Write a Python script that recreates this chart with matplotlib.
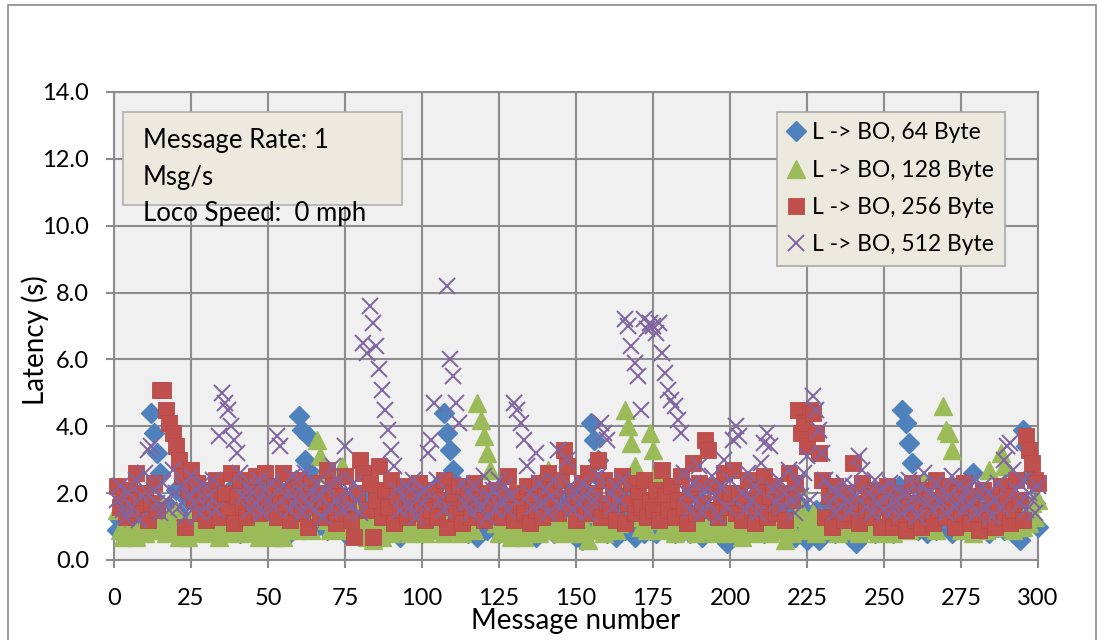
import matplotlib
matplotlib.use("Agg")
import matplotlib.pyplot as plt
from matplotlib.patches import Rectangle
from matplotlib.ticker import FormatStrFormatter

plt.rcParams['font.family'] = ['Lato', 'DejaVu Sans']

# Message numbers
messages = list(range(1, 301))

# Latency (s) per message, L -> BO, 64 Byte
lat_64 = [
    0.9,1.2,1.5,0.8,1.9,1.1,1.4,0.9,1.7,1.2,1.0,4.4,3.8,3.2,2.6,1.3,0.9,1.6,1.1,2.1,1.4,0.8,1.2,1.8,1.0,
    1.3,0.9,1.6,1.1,2.0,1.4,0.8,1.2,1.7,1.0,1.5,0.9,1.3,2.2,1.1,0.8,1.6,1.2,1.9,1.0,1.4,0.9,1.7,1.2,2.3,
    1.1,1.6,0.9,1.3,2.0,1.2,0.8,1.5,2.4,4.3,3.9,3.0,3.7,2.6,1.4,1.0,1.7,1.2,0.9,2.1,1.3,1.6,1.0,1.4,0.8,
    1.2,1.7,0.9,1.4,1.0,1.9,1.3,0.8,1.5,1.1,1.8,1.2,0.9,1.6,1.0,2.0,1.3,0.7,1.4,1.1,1.7,0.9,1.2,1.5,0.8,
    1.3,0.9,1.6,1.1,2.2,1.5,4.4,3.8,3.3,2.7,2.3,1.4,1.0,1.7,0.8,1.2,1.5,0.7,1.1,1.6,0.9,1.3,1.8,1.0,0.8,
    1.4,0.9,1.2,1.7,1.0,0.8,1.5,1.1,1.9,0.9,1.3,0.7,1.6,1.0,1.2,2.5,1.4,0.8,1.1,1.7,0.9,1.3,2.0,1.0,0.7,
    1.2,0.6,1.5,0.9,4.1,3.6,3.0,2.4,1.3,0.8,1.6,1.0,0.7,1.4,1.1,0.9,1.8,1.2,0.7,1.5,1.0,0.8,1.3,0.9,1.6,
    0.8,1.2,1.7,1.0,0.9,1.4,0.8,1.1,1.6,0.9,1.3,0.8,1.2,2.0,1.0,0.7,1.5,1.1,0.9,1.4,0.8,1.2,1.7,0.5,0.7,
    1.3,0.9,1.6,1.0,0.8,1.4,1.1,0.9,1.7,1.2,0.8,1.5,1.0,1.3,0.9,1.8,1.1,0.8,1.4,1.0,0.7,1.2,1.6,0.9,0.6,
    1.1,0.8,1.5,0.6,1.2,0.9,1.7,1.0,0.8,1.3,1.1,0.9,1.6,0.7,1.2,0.5,1.0,1.4,0.9,1.8,1.1,0.8,1.3,1.0,0.9,
    1.4,1.0,0.8,1.6,2.2,4.5,4.1,3.5,2.9,1.3,0.9,1.5,1.1,0.8,1.7,1.2,0.9,1.4,1.0,1.9,1.3,0.8,1.5,1.1,0.9,
    1.3,1.0,1.6,2.6,1.2,0.9,1.5,1.1,0.8,1.4,1.9,1.0,1.3,0.9,1.6,1.1,0.8,1.4,0.6,3.9,3.4,2.5,1.2,1.7,1.0,
]

# Latency (s) per message, L -> BO, 128 Byte
lat_128 = [
    1.5,0.9,0.7,1.3,0.8,1.1,0.7,1.6,1.0,0.8,1.2,1.4,0.9,1.1,1.7,1.0,0.8,1.3,0.9,1.5,0.7,1.1,0.8,0.7,1.2,
    0.9,1.4,1.0,0.8,1.6,1.1,0.9,1.3,0.7,1.0,1.5,0.8,1.2,0.9,1.4,1.0,1.7,0.8,1.1,1.3,0.9,0.7,1.2,1.0,0.8,
    1.4,0.7,1.1,0.8,0.7,1.3,1.0,1.5,0.9,1.2,1.6,1.0,1.3,0.9,1.4,3.6,3.1,2.6,1.2,0.9,1.5,1.0,1.3,2.8,1.1,
    0.9,1.2,1.6,0.8,1.0,1.3,0.7,1.1,0.6,1.4,0.9,0.7,1.2,1.0,0.8,1.5,1.1,0.9,1.3,1.0,0.8,1.2,0.9,1.4,1.0,
    0.8,1.3,1.0,1.6,0.9,1.2,0.8,1.1,1.5,0.9,1.3,1.0,0.8,1.2,1.4,1.0,0.9,4.7,4.2,3.7,3.2,2.7,1.5,1.1,0.8,
    1.3,0.9,1.1,0.7,1.4,0.8,1.0,0.7,1.2,1.6,0.9,1.1,0.8,1.3,1.0,2.7,1.4,0.9,1.2,0.8,1.5,1.0,1.1,0.9,1.3,
    0.8,1.2,1.0,0.6,1.4,0.9,1.1,1.3,0.8,1.0,1.5,1.2,0.9,1.1,2.0,4.5,4.0,3.5,2.8,1.3,1.0,1.4,0.9,3.8,3.3,
    2.6,1.2,0.9,1.5,1.0,1.3,0.8,1.1,1.6,0.9,1.2,1.0,1.4,0.8,1.1,1.3,0.9,1.5,1.0,0.8,1.2,1.4,0.9,1.1,0.8,
    1.3,0.9,1.1,0.7,1.4,1.0,0.8,1.2,1.5,0.9,1.1,1.3,0.8,1.0,1.6,1.2,0.9,0.6,1.1,0.8,1.3,2.2,1.5,0.9,1.2,
    1.0,1.4,0.8,1.1,1.3,0.9,1.2,1.0,1.6,0.8,1.1,1.3,0.9,1.5,1.0,1.2,0.8,1.4,1.1,0.9,1.3,1.0,0.8,1.2,1.5,
    0.9,1.1,0.8,1.3,1.0,1.5,1.2,0.9,1.4,1.1,1.6,1.3,2.4,1.0,1.2,1.8,0.9,1.5,4.6,3.9,3.8,3.3,1.4,1.1,0.9,
    1.2,1.5,1.0,0.8,1.3,1.1,1.6,0.9,2.7,1.2,1.4,1.0,3.2,2.8,1.1,1.3,0.9,1.5,1.2,1.0,1.4,1.1,1.7,1.3,1.8,
]

# Latency (s) per message, L -> BO, 256 Byte
lat_256 = [
    2.2,1.6,1.9,1.3,2.1,1.5,2.6,1.8,1.4,2.0,1.2,1.7,2.3,1.5,5.1,5.1,4.5,4.1,3.8,3.4,3.0,2.5,1.0,2.1,2.7,
    1.8,2.3,1.4,1.9,1.2,2.1,1.6,2.4,1.3,1.8,2.0,1.5,2.6,1.1,1.9,2.4,1.6,1.3,2.2,1.7,2.5,1.4,2.0,2.6,1.8,
    1.5,2.2,1.3,1.9,2.6,1.7,1.2,2.1,1.6,2.4,1.4,1.9,1.0,2.3,1.6,2.0,1.3,1.8,2.7,1.5,2.2,1.1,1.9,1.4,2.5,
    1.7,1.2,0.7,2.0,3.0,2.6,1.5,2.3,0.7,1.8,2.8,1.3,2.1,1.6,2.4,1.1,1.9,1.5,2.2,1.3,1.7,2.0,1.4,2.3,1.6,
    1.2,1.9,1.5,2.1,1.3,1.8,2.4,1.0,1.6,2.0,1.4,2.2,1.1,1.7,1.9,1.3,2.3,1.5,1.8,1.2,2.0,1.6,1.4,2.1,1.7,
    1.3,1.9,2.5,1.5,1.2,2.0,1.6,1.4,2.2,1.1,1.8,1.5,2.3,1.3,1.9,2.6,1.7,2.1,1.4,2.4,3.3,2.8,1.6,2.0,1.2,
    1.8,2.3,1.4,2.6,1.6,2.0,3.0,1.3,2.4,1.7,1.5,2.2,1.2,1.9,2.5,1.1,1.7,2.3,1.4,2.0,1.6,2.4,1.3,1.8,1.5,
    2.1,1.2,2.7,1.9,1.5,2.2,1.3,1.8,2.5,1.6,1.1,2.0,2.9,1.4,2.3,1.7,3.6,3.3,1.5,2.2,1.3,1.9,2.6,1.6,2.0,
    2.7,1.4,2.0,1.2,1.8,2.4,1.5,1.1,2.1,1.7,2.5,1.3,1.9,2.2,1.4,1.6,2.0,1.2,2.6,1.8,2.3,4.5,3.8,4.1,3.4,
    4.5,4.4,3.8,3.2,2.4,1.3,1.9,1.0,2.2,1.5,1.8,1.2,2.0,1.4,2.9,1.7,1.1,2.3,1.5,1.9,1.3,2.1,1.6,1.0,1.8,
    2.2,1.4,1.0,1.8,1.3,2.0,0.9,1.6,2.3,1.2,1.7,1.0,2.1,1.4,1.8,1.1,2.4,1.5,1.9,1.3,2.2,1.6,1.0,2.0,1.4,
    2.3,1.7,1.1,1.9,1.4,0.9,2.1,1.5,1.2,1.8,1.0,1.6,2.2,1.3,1.9,1.1,1.5,2.4,1.8,1.2,3.7,3.3,2.9,2.4,2.3,
]

# Latency (s) per message, L -> BO, 512 Byte
lat_512 = [
    1.8,2.2,1.5,1.3,2.0,1.6,2.4,1.2,1.9,2.6,3.3,3.4,2.1,1.7,1.4,2.3,1.8,1.5,2.7,2.0,1.6,2.2,1.3,1.9,2.5,
    1.7,2.1,1.4,2.3,1.6,1.9,2.4,1.5,3.7,5.0,4.7,4.5,4.0,3.6,3.2,2.6,1.9,2.2,1.5,2.0,1.7,2.4,1.4,2.1,1.8,
    2.3,1.6,3.7,3.4,2.2,1.9,1.5,2.5,1.8,2.1,1.4,2.6,1.7,2.0,1.5,2.3,1.9,1.3,2.2,1.6,2.8,1.8,2.4,1.5,3.4,
    2.0,1.6,2.3,1.8,1.4,6.5,6.2,7.6,7.1,6.4,5.7,5.1,4.5,3.9,3.3,2.8,2.1,1.5,1.9,2.2,1.6,2.4,1.3,2.0,1.7,
    2.1,3.2,3.6,4.7,2.4,1.8,1.5,8.2,6.0,5.5,4.7,4.1,2.3,1.7,2.0,1.4,2.2,1.8,1.6,2.5,1.3,1.9,2.1,1.5,2.4,
    1.8,2.2,1.5,1.9,4.7,4.5,4.1,3.6,2.8,2.0,1.6,3.2,2.3,1.7,2.1,1.4,1.9,2.4,3.3,1.6,1.8,3.0,2.2,1.5,2.0,
    1.7,2.3,1.9,1.4,2.1,1.8,2.5,4.1,3.8,3.6,2.0,1.6,2.2,1.8,2.4,7.2,7.0,6.4,5.9,5.5,4.5,7.2,6.9,7.1,7.0,
    6.8,7.1,6.2,5.6,5.1,4.8,4.6,4.2,3.8,2.6,2.0,1.5,2.3,1.8,2.8,1.4,2.1,1.7,2.5,1.9,1.3,2.2,3.0,1.6,2.4,
    3.6,4.0,3.7,2.0,1.5,2.6,1.8,2.2,1.4,2.9,3.5,3.8,3.4,2.1,1.7,2.4,1.6,2.0,2.7,1.8,1.4,2.3,1.9,2.6,3.1,
    1.8,4.9,4.5,3.9,3.2,2.4,1.7,2.1,1.4,2.0,1.6,2.3,1.8,1.5,2.2,1.9,3.1,2.7,1.6,2.0,1.4,2.4,1.7,2.1,1.5,
    1.9,2.3,1.5,1.8,2.1,1.4,2.0,2.4,1.6,1.9,1.3,2.2,2.6,1.7,2.0,1.5,2.3,1.8,2.1,1.4,1.9,2.5,1.6,2.2,1.8,
    1.5,2.1,1.7,2.4,1.4,1.9,2.2,1.6,2.0,1.3,1.8,2.3,1.6,3.0,3.4,3.5,2.7,2.1,1.7,2.4,1.5,2.0,1.8,1.4,2.2,
]

series_labels = ["L -> BO, 64 Byte", "L -> BO, 128 Byte",
                 "L -> BO, 256 Byte", "L -> BO, 512 Byte"]
x_ticks = [0, 25, 50, 75, 100, 125, 150, 175, 200, 225, 250, 275, 300]
y_ticks = [0.0, 2.0, 4.0, 6.0, 8.0, 10.0, 12.0, 14.0]
note_lines = ["Message Rate: 1", "Msg/s", "Loco Speed:  0 mph"]

BLUE, GREEN, RED, PURPLE = "#4F81BD", "#9BBB59", "#C0504D", "#8064A2"
GRID = "#8C8C8C"
BOX = "#ECEADF"

fig = plt.figure(figsize=(11, 6.4), dpi=100)
fig.patch.set_facecolor("white")

# thin frame around the whole chart
fig.patches.append(Rectangle((8 / 1100, -0.05), 1088 / 1100, 1 - 5 / 640 + 0.05,
                             transform=fig.transFigure, fill=False,
                             edgecolor="#8A8A8A", linewidth=1.2))

ax = fig.add_axes([114 / 1100, 1 - 560 / 640, 924 / 1100, 468 / 640])
ax.set_facecolor("#F0F0F0")

ax.plot(messages, lat_64, linestyle="none", marker="D", markersize=10.5,
        color=BLUE, markeredgecolor=BLUE, label=series_labels[0], clip_on=False, zorder=3)
ax.plot(messages, lat_128, linestyle="none", marker="^", markersize=13,
        color=GREEN, markeredgecolor=GREEN, label=series_labels[1], clip_on=False, zorder=4)
ax.plot(messages, lat_256, linestyle="none", marker="s", markersize=11.5,
        color=RED, markeredgecolor="#B84A47", markeredgewidth=0.6,
        label=series_labels[2], clip_on=False, zorder=5)
ax.plot(messages, lat_512, linestyle="none", marker="x", markersize=12,
        markeredgewidth=1.4, color=PURPLE, label=series_labels[3], clip_on=False, zorder=6)

ax.set_xlim(0, 300)
ax.set_ylim(0, 14)
ax.set_xticks(x_ticks)
ax.set_yticks(y_ticks)
ax.yaxis.set_major_formatter(FormatStrFormatter("%.1f"))
ax.grid(True, color=GRID, linewidth=1.5, zorder=0)
ax.set_axisbelow(True)
for sp in ax.spines.values():
    sp.set_color(GRID)
    sp.set_linewidth(1.5)
ax.tick_params(axis="both", direction="out", length=6, width=1.5, color=GRID,
               labelsize=17)
ax.tick_params(axis="x", pad=14)
ax.tick_params(axis="y", pad=12)

ax.set_xlabel("Message number", fontsize=20, va="center")
ax.xaxis.set_label_coords(0.5, -0.130)
ax.set_ylabel("Latency (s)", fontsize=20, va="center")
ax.yaxis.set_label_coords(-0.0855, 0.47)

# annotation box with the run conditions
ax.add_patch(Rectangle((0.0097, 0.7585), 0.302, 0.1985, transform=ax.transAxes,
                       facecolor=BOX, edgecolor="#B0B0B0", linewidth=1.2, zorder=7))
for line, yy in zip(note_lines, [0.897, 0.818, 0.741]):
    ax.text(0.031, yy, line, transform=ax.transAxes, fontsize=18.5,
            va="center", ha="left", zorder=8)

leg = ax.legend(loc="upper left", bbox_to_anchor=(0.7175, 0.957), fontsize=16.5,
                frameon=True, fancybox=False, framealpha=1, facecolor=BOX,
                edgecolor="#A8A8A8", handlelength=0.8, handletextpad=0.3,
                labelspacing=0.71, borderpad=0.45, borderaxespad=0)
leg.set_zorder(9)
leg.get_frame().set_linewidth(1.2)

fig.savefig("out.png", dpi=100)
